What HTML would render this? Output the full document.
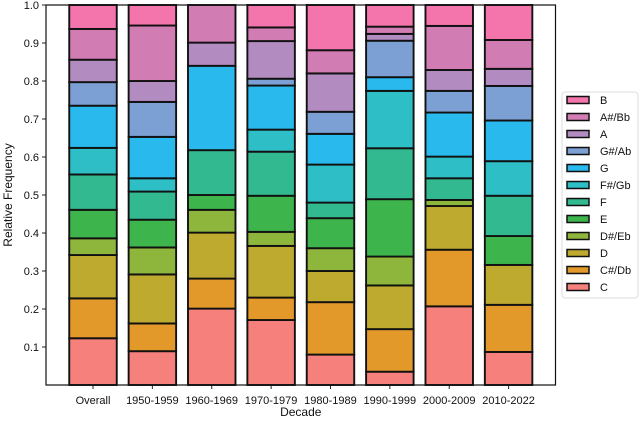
<!DOCTYPE html>
<html><head><meta charset="utf-8"><style>
body{margin:0;background:#fff;}
svg{display:block;font-family:"Liberation Sans",Arial,sans-serif;}
</style></head><body>
<svg id="chart" width="640" height="424"></svg>
<script>
const categories=["Overall","1950-1959","1960-1969","1970-1979","1980-1989","1990-1999","2000-2009","2010-2022"];
const seriesNames=["C","C#/Db","D","D#/Eb","E","F","F#/Gb","G","G#/Ab","A","A#/Bb","B"];
const colors=["#f5807c","#e3982a","#bfaa30","#8fb63c","#3db54c","#33b98f","#2ebec6","#29b9ec","#7c9fd4","#b28cc1","#d17cb3","#f375ab"];
// per-decade fractions, series order C..B
const valOverall=[.123,.105,.114,.044,.075,.093,.070,.111,.062,.059,.081,.063];
const val1950=[.089,.073,.129,.071,.073,.074,.035,.109,.092,.055,.146,.054];
const val1960=[.201,.079,.121,.060,.039,.118,0,.222,0,.061,.099,0];
const val1970=[.171,.059,.136,.037,.095,.116,.058,.116,.018,.099,.036,.059];
const val1980=[.080,.138,.082,.060,.079,.041,.100,.081,.058,.101,.061,.119];
const val1990=[.035,.112,.115,.076,.151,.134,.151,.036,.096,.018,.019,.057];
const val2000=[.207,.149,.115,.016,0,.057,.057,.116,.057,.055,.116,.055];
const val2010=[.087,.124,.105,0,.076,.106,.091,.107,.091,.045,.076,.092];
const values=[valOverall,val1950,val1960,val1970,val1980,val1990,val2000,val2010];
const yTicks=[0.1,0.2,0.3,0.4,0.5,0.6,0.7,0.8,0.9,1.0];

const NS="http://www.w3.org/2000/svg";
const svg=document.getElementById('chart');
const L=46,R=555.5,T=5,B=385;
const x=i=>93+i*59.37;
const y=v=>B-(B-T)*v;
const bw=47.5;
function mk(t,a,p){const e=document.createElementNS(NS,t);for(const k in a)e.setAttribute(k,a[k]);(p||svg).appendChild(e);return e;}

const bars=mk('g',{});


categories.forEach((c,i)=>{
  let cum=0;
  values[i].forEach((v,s)=>{
    const y0=y(cum),y1=y(cum+v);
    const r=mk('rect',{x:x(i)-bw/2,y:y1,width:bw,height:Math.max(0,y0-y1),fill:colors[s],stroke:'#111','stroke-width':1.9},bars);
    
    
    cum+=v;
  });
  const t=mk('line',{x1:x(i),x2:x(i),y1:B,y2:B+4,stroke:'#222','stroke-width':1});
  
  
  const lb=mk('text',{x:x(i),y:B+19,'font-size':11,'text-anchor':'middle',fill:'#111'});
  lb.textContent=c;
  
  
});
yTicks.forEach(v=>{
  const t=mk('line',{x1:L-4,x2:L,y1:y(v),y2:y(v),stroke:'#222','stroke-width':1});
  
  
  const lb=mk('text',{x:L-7,y:y(v)+4,'font-size':11,'text-anchor':'end',fill:'#111'});
  lb.textContent=v.toFixed(1);
  
  
});
const fr=mk('rect',{x:L,y:T,width:R-L,height:B-T,fill:'none',stroke:'#111','stroke-width':1.2});


const xt=mk('text',{x:(L+R)/2,y:416,'font-size':12,'text-anchor':'middle',fill:'#111'});
xt.textContent='Decade';


const yt=mk('text',{x:0,y:0,'font-size':12,'text-anchor':'middle',fill:'#111',transform:'translate(12,195) rotate(-90)'});
yt.textContent='Relative Frequency';



const lg=mk('g',{});


mk('rect',{x:562,y:92,width:76,height:206,rx:3,fill:'#fff',stroke:'#ddd','stroke-width':1},lg);
for(let k=0;k<12;k++){
  const s=11-k, yy=100+k*17;
  const p=mk('rect',{x:567,y:yy-3.5,width:22,height:7,fill:colors[s],stroke:'#111','stroke-width':1.5},lg);
  
  
  const t=mk('text',{x:600,y:yy+4,'font-size':11,fill:'#111'},lg);
  t.textContent=seriesNames[s];
  
  
}
</script>
</body></html>
